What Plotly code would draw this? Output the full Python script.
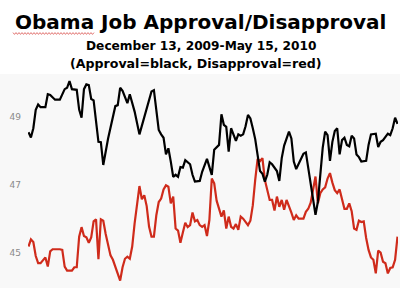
import plotly.graph_objects as go
import pandas as pd

start_date = pd.Timestamp("2009-12-13")

# Approval (black): days since Dec 13, 2009 and percentage
approval_days = [0, 1, 2, 3, 4, 5, 7, 8, 9, 11, 13, 15, 16, 17, 18, 20, 21, 22, 23, 24,
                 25, 26, 27, 28, 29, 30, 31, 33, 35, 36, 37, 38, 39, 41, 42, 44, 46, 49, 51, 52,
                 53, 54, 55, 56, 57, 58, 59, 60, 61, 62, 63, 64, 65, 66, 67, 68, 69, 71, 72, 74,
                 76, 77, 79, 80, 81, 82, 83, 84, 85, 86, 87, 88, 89, 90, 91, 92, 93, 94, 95, 96,
                 97, 98, 99, 100, 101, 103, 104, 105, 106, 108, 109, 110, 111, 113, 114, 115, 117, 118, 119, 120,
                 121, 122, 123, 124, 125, 126, 127, 128, 129, 130, 131, 132, 133, 134, 135, 136, 137, 138, 140, 141,
                 142, 144, 145, 146, 147, 149, 150, 151, 152, 153]
approval = [48.54, 48.39, 48.66, 49.20, 49.36, 49.28, 49.28, 49.66, 49.64, 49.50, 49.50, 49.81, 49.85, 50.05, 49.81, 49.79, 49.21, 48.97, 49.81, 49.95,
            49.93, 49.52, 49.48, 48.85, 48.26, 48.25, 47.58, 48.36, 49.05, 49.31, 49.34, 49.85, 49.76, 49.40, 49.66, 49.15, 48.48, 49.21, 49.74, 49.78,
            49.15, 48.61, 48.48, 48.38, 47.89, 48.07, 47.68, 47.23, 47.29, 47.23, 47.52, 47.50, 47.72, 47.66, 47.60, 47.29, 47.09, 47.11, 47.38, 47.76,
            47.29, 48.03, 48.17, 49.07, 48.76, 48.70, 47.97, 48.66, 48.50, 48.29, 48.48, 48.44, 48.48, 48.72, 49.05, 48.95, 48.66, 48.34, 47.87, 47.40,
            47.32, 47.09, 47.29, 47.66, 47.60, 47.40, 47.11, 47.78, 48.15, 48.56, 48.36, 47.68, 47.46, 47.79, 47.91, 47.95, 47.09, 46.60, 46.11, 46.50,
            47.29, 48.09, 48.56, 48.46, 47.70, 48.26, 48.58, 48.66, 47.89, 48.31, 48.38, 48.17, 48.13, 48.44, 48.36, 47.89, 47.81, 47.68, 47.70, 48.17,
            48.48, 48.50, 48.11, 48.26, 48.31, 48.50, 48.46, 48.66, 48.97, 48.79]

# Disapproval (red)
disapproval_days = [0, 1, 2, 3, 4, 5, 7, 8, 9, 10, 13, 14, 15, 16, 18, 19, 20, 21, 22, 23,
                    24, 25, 26, 27, 28, 29, 30, 31, 32, 33, 34, 35, 36, 37, 38, 39, 40, 41, 42, 43,
                    44, 46, 47, 48, 49, 50, 51, 52, 53, 54, 55, 56, 57, 58, 59, 60, 61, 62, 63, 64,
                    65, 66, 67, 68, 69, 70, 71, 72, 73, 74, 75, 76, 77, 78, 79, 80, 81, 82, 83, 84,
                    85, 86, 87, 88, 89, 90, 91, 92, 93, 94, 95, 96, 97, 98, 99, 100, 101, 102, 103, 104,
                    105, 106, 107, 108, 109, 110, 111, 112, 114, 115, 116, 117, 118, 119, 120, 121, 122, 123, 124, 125,
                    126, 127, 128, 129, 130, 131, 132, 133, 134, 135, 136, 137, 138, 139, 140, 141, 142, 143, 144, 145,
                    146, 147, 148, 149, 150, 151, 152, 153]
disapproval = [45.18, 45.39, 45.31, 44.90, 44.69, 44.69, 44.86, 44.59, 45.04, 45.10, 45.10, 45.08, 44.59, 44.47, 44.47, 44.57, 44.57, 45.47, 45.75, 45.49,
               45.45, 45.29, 45.45, 45.92, 45.98, 44.81, 45.98, 45.94, 45.55, 45.18, 44.92, 44.79, 44.57, 44.35, 44.18, 44.57, 44.82, 44.88, 44.82, 45.18,
               45.86, 46.96, 46.57, 46.69, 46.37, 45.76, 45.47, 45.47, 46.10, 46.49, 46.59, 46.86, 46.98, 46.94, 46.45, 46.65, 45.71, 45.65, 45.29, 45.59,
               45.88, 45.75, 45.81, 46.18, 45.92, 45.96, 45.81, 45.76, 45.81, 45.49, 45.96, 47.18, 47.04, 46.53, 46.29, 46.06, 46.24, 45.71, 46.06, 45.76,
               45.71, 45.84, 45.67, 46.06, 46.00, 45.92, 45.81, 45.94, 46.39, 47.14, 47.76, 47.69, 47.78, 47.14, 46.84, 46.55, 46.55, 46.24, 46.65, 46.35,
               46.55, 46.26, 46.55, 46.39, 46.18, 45.96, 46.10, 46.00, 46.00, 46.20, 46.29, 46.47, 46.82, 47.24, 46.45, 46.75, 46.86, 46.92, 47.18, 47.34,
               47.06, 46.84, 46.75, 46.86, 46.57, 46.29, 46.29, 46.45, 46.22, 45.71, 45.67, 45.94, 45.90, 45.92, 45.43, 45.08, 44.86, 44.79, 44.39, 45.06,
               45.00, 44.73, 44.69, 44.39, 44.55, 44.57, 44.79, 45.47]

y_ticks = [45, 47, 49]
title_text = "Obama Job Approval/Disapproval"
subtitle_1 = "December 13, 2009-May 15, 2010"
subtitle_2 = "(Approval=black, Disapproval=red)"

approval_dates = [start_date + pd.Timedelta(days=d) for d in approval_days]
disapproval_dates = [start_date + pd.Timedelta(days=d) for d in disapproval_days]

W, H = 400, 288
ML, MR, MT, MB = 28, 2, 74, 0
PW, PH = W - ML - MR, H - MT - MB


def px_x(px):
    return (px - ML) / PW


def px_y(py):
    return (H - MB - py) / PH


fig = go.Figure()
fig.add_trace(go.Scatter(x=disapproval_dates, y=disapproval, mode="lines",
                         line=dict(color="#cf2b1b", width=2.2), hoverinfo="skip"))
fig.add_trace(go.Scatter(x=approval_dates, y=approval, mode="lines",
                         line=dict(color="#000000", width=2.2), hoverinfo="skip"))

# light gray chart background below the title block
fig.add_shape(type="rect", xref="paper", yref="paper", x0=px_x(0), x1=px_x(W), y0=px_y(H), y1=px_y(MT),
              fillcolor="#f8f8f8", line=dict(width=0), layer="below")

# red spell-check squiggle under "Obama"
sq_pts = []
xx = 13.0
k = 0
while xx <= 94:
    sq_pts.append((px_x(xx), px_y(33.5 + (0.9 if k % 2 else -0.9))))
    xx += 1.5
    k += 1
path = "M " + " L ".join(f"{a:.5f},{b:.5f}" for a, b in sq_pts)
fig.add_shape(type="path", xref="paper", yref="paper", path=path,
              line=dict(color="#d9534f", width=0.8))

fig.add_annotation(text=f"<b>{title_text}</b>", xref="paper", yref="paper",
                   x=px_x(200), y=px_y(22), showarrow=False, xanchor="center", yanchor="middle",
                   font=dict(family="DejaVu Sans", size=20, color="#000000"))
fig.add_annotation(text=f"<b>{subtitle_1}</b>", xref="paper", yref="paper",
                   x=px_x(201), y=px_y(46), showarrow=False, xanchor="center", yanchor="middle",
                   font=dict(family="DejaVu Sans", size=12.2, color="#000000"))
fig.add_annotation(text=f"<b>{subtitle_2}</b>", xref="paper", yref="paper",
                   x=px_x(196), y=px_y(63), showarrow=False, xanchor="center", yanchor="middle",
                   font=dict(family="DejaVu Sans", size=12.6, color="#000000"))

fig.update_layout(
    width=W, height=H,
    margin=dict(l=ML, r=MR, t=MT, b=MB, pad=0),
    paper_bgcolor="#ffffff",
    plot_bgcolor="#f8f8f8",
    showlegend=False,
    xaxis=dict(visible=False,
               range=[start_date - pd.Timedelta(hours=5), start_date + pd.Timedelta(days=153, hours=5)]),
    yaxis=dict(range=[43.96, 50.256], tickvals=y_ticks, ticktext=[str(v) for v in y_ticks],
               showgrid=False, zeroline=False, showline=False, ticks="",
               ticklabelstandoff=6,
               tickfont=dict(family="DejaVu Sans", size=9, color="#8a8a8a")),
)

fig.write_html("out.html")
